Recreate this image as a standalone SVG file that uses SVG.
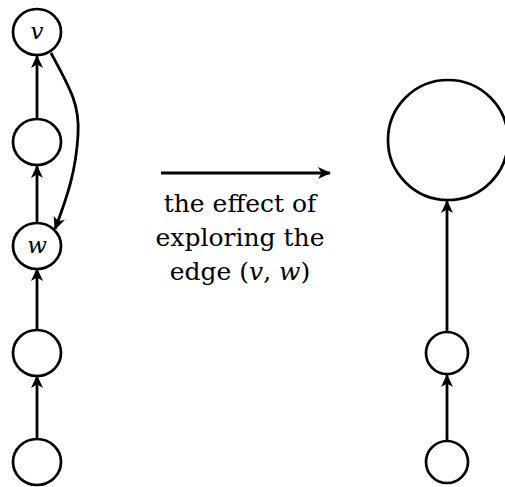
<svg xmlns="http://www.w3.org/2000/svg" width="505" height="487" viewBox="0 0 505 487">
<style>
.n{fill:#fff;stroke:#000;stroke-width:2.7}
.e{fill:none;stroke:#000;stroke-width:2.8}
.lbl{font-family:"DejaVu Serif","Liberation Serif",serif;font-style:italic;font-size:23px;text-anchor:middle}
.t{font-family:"DejaVu Serif","Liberation Serif",serif;font-size:25px;text-anchor:middle}
</style>
<defs>
<marker id="ah" viewBox="0 0 13 12" refX="12" refY="6" markerWidth="13" markerHeight="12" markerUnits="userSpaceOnUse" orient="auto">
<path d="M0,0 L13,6 L0,12 L3.5,6 Z" fill="#000"/>
</marker>
</defs>
<rect width="505" height="487" fill="#fff"/>
<g id="connectors">
<line class="e" x1="37" y1="119" x2="37" y2="56" marker-end="url(#ah)"/>
<line class="e" x1="37" y1="222" x2="37" y2="166" marker-end="url(#ah)"/>
<line class="e" x1="37" y1="330" x2="37" y2="269" marker-end="url(#ah)"/>
<line class="e" x1="37" y1="439" x2="37" y2="376" marker-end="url(#ah)"/>
<path class="e" d="M51,53 C70,88 80,105 78,135 C76,170 68,195 55,229" marker-end="url(#ah)"/>
<line class="e" x1="161" y1="173" x2="330" y2="173" marker-end="url(#ah)"/>
<line class="e" x1="447" y1="332" x2="447" y2="201" marker-end="url(#ah)"/>
<line class="e" x1="447" y1="441" x2="447" y2="375" marker-end="url(#ah)"/>
</g>
<g id="v"><ellipse class="n" cx="37" cy="32" rx="24" ry="23"/><text class="lbl" x="37" y="39">v</text></g>
<g id="a1"><ellipse class="n" cx="37" cy="142" rx="24" ry="23"/></g>
<g id="w"><ellipse class="n" cx="37" cy="246" rx="24" ry="23"/><text class="lbl" x="37" y="253">w</text></g>
<g id="a2"><ellipse class="n" cx="37" cy="353" rx="24" ry="23"/></g>
<g id="a3"><ellipse class="n" cx="37" cy="462" rx="24" ry="23"/></g>
<g id="big"><circle class="n" cx="448" cy="140" r="60"/></g>
<g id="b1"><circle class="n" cx="447" cy="353" r="21"/></g>
<g id="b2"><circle class="n" cx="447" cy="462" r="21"/></g>
<g id="caption">
<text class="t" x="240" y="212">the effect of</text>
<text class="t" x="240" y="246">exploring the</text>
<text class="t" x="240" y="280">edge (<tspan font-style="italic">v</tspan>, <tspan font-style="italic">w</tspan>)</text>
</g>
</svg>
